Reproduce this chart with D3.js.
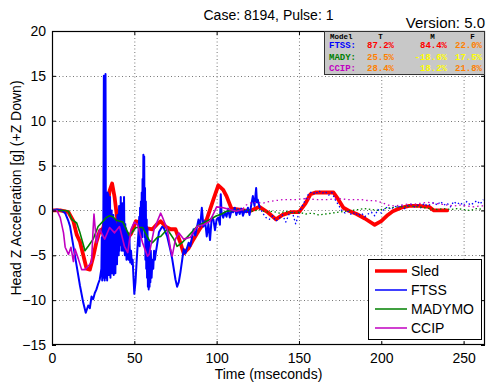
<!DOCTYPE html>
<html><head><meta charset="utf-8">
<script src="https://cdn.jsdelivr.net/npm/d3@7"></script>
<style>body{margin:0;background:#fff}svg{display:block}</style>
</head><body><svg id="c" width="487" height="383"></svg>
<script>
// ---------- data ----------
const xTicks = [0, 50, 100, 150, 200, 250];
const yTicks = [-15, -10, -5, 0, 5, 10, 15, 20];
const seriesNames = ["Sled", "FTSS", "MADYMO", "CCIP"];
const seriesColors = ["#ff0000", "#0000ff", "#008000", "#c000c0"];

const sledT = [0,5,10,13,15,17,19,21,23,25,27,29,31,33,35,36.5,38,40,42,45,48,51,54,58,61,64,66,69,72,75,78,80,83,86,90,94,98,101,104,106,109,114,120,126,131,136,140,145,150,154,157,160,167,171,174,177,181,185,190,196,200,204,207,212,217,223,229,232,240];
const sledV = [0,0,-0.2,-1.2,-2.7,-3.5,-5,-6.5,-6.6,-5.2,-3.5,-2.3,-2.0,-0.5,2.2,3.0,1.5,-1.5,-3.8,-3.3,-2.6,-1.2,-1.4,-2.0,-2.1,-1.5,-1.2,-1.8,-2.1,-2.1,-3.6,-4.8,-4.2,-3.2,-2.0,-1.0,1.2,2.8,2.3,1.6,0.2,0.1,-0.1,0.4,-0.2,-1.0,-0.5,-0.2,-0.2,0.8,1.8,2.0,2.0,2.0,1.2,0.3,-0.1,-0.4,-0.9,-1.6,-1.2,-0.5,-0.1,0.3,0.5,0.5,0.4,0,0];

const ftssT = [0,3,6,8,10,11,13,15,17,19,20.5,22,23,24,25,26,27,28,29,
  30,30.25,30.5,30.75,31,31.25,31.5,31.75,32,32.25,32.5,32.75,33,33.25,33.5,33.75,34,34.25,34.5,34.75,35,35.25,35.5,35.75,36,36.25,36.5,36.75,37,37.25,37.5,37.75,38,38.25,38.5,38.75,39,39.25,39.5,39.75,
  40,40.25,40.5,40.75,41,41.25,41.5,41.75,42,42.25,42.5,42.75,43,43.25,43.5,43.75,44,44.25,44.5,44.75,45,45.25,45.5,45.75,46,46.5,47,47.5,48,48.5,49,49.5,50,50.7,51.5,52.5,
  53,53.25,53.5,53.75,54,54.25,54.5,54.75,55,55.25,55.5,55.75,56,56.25,56.5,56.75,57,57.25,57.5,57.75,58,58.25,58.5,58.75,59,59.25,59.5,59.75,60,60.5,61,61.5,62,62.5,63,64,
  65,66,67,68,70,72,73,75,76,77,78,80,81,83,84,86,87,89,90,91,92,93,94,95,96,97,98,99,100,101,102,102.5,103,104,105,106,107,108,109,110,111,112,113,114,115,116,117,118,119,120,121,122,123,124,124.5,125,126];
const ftssV = [0,0.1,0,-0.3,-1.2,-1.8,-4,-6.2,-8.4,-10.3,-11.4,-10.6,-10.9,-9.6,-9.9,-9.2,-8.8,-8.2,-7.7,
  -6.5,-3,-7.8,-2,-7.5,2.0,15.0,-6,-7.8,1.5,15.2,-5,-7.5,1.0,-7.8,2.0,-7.0,1.8,-7.2,0.5,-6.0,1.5,-7.5,-1.0,-6.8,0,-7.0,-1.5,-6.5,-0.5,-7.2,-2.0,-6.8,-1.0,-7.0,-2.5,-5.5,-1.5,-6.0,-0.5,
  -4.5,-1.0,-5.0,0.5,-4.5,-0.5,-3.8,1.5,-3.5,-0.5,-4.5,0.8,-4.0,-1.0,-4.5,1.5,-3.0,-5.0,-1.5,-4.5,-2.0,-5.5,-3.0,-5.0,-2.5,-5.5,-3.0,-5.8,-4.5,-6.0,-5.5,-7.5,-9.3,-8.0,-5.4,-2.5,
  -0.7,-4,0.3,-3,1.0,-2.5,2.0,-3,3.5,-1,6.2,-2,6.0,-3,2.5,-5.5,1.0,-6.5,-1,-7.5,-2,-8.5,-4,-8.8,-3.5,-8.5,-5,-8.0,-4.5,-7.5,-5.5,-6.5,-4.5,-5.5,-4.8,-3.6,
  -2.4,-2.1,-1.8,-2.0,-2.9,-4.5,-5.4,-7.7,-8.5,-8.0,-6.9,-4.3,-4.8,-3.6,-4.0,-2.1,-2.8,-1.0,-1.8,0.3,-1.8,-1.2,-2.9,-1.5,-3.3,-0.8,-1.0,-2.2,-1.0,-0.8,-1.6,1.8,-0.3,-0.8,-0.2,-0.7,0.2,-0.8,0,-0.2,0.3,-0.5,0.1,-0.4,0.2,-0.6,0,-0.2,0.3,-0.5,0.6,1.6,0.5,2.5,0.9,1.2,0.4];
const ftssLateT = [126,128,130,132,134,136,138,140,142,144,146,148,150,152,154,156,158,160,162,164,166,168,170,172,174,176,178,180,182,184,186,188,190,192,194,196,198,200,202,204,206,208,210,212,214,216,218,220,222,224,226,228,230,232,234,236,238,240,242,244,246,248,250,252,254,256,258,260,262];
const ftssLateV = [0.4,-0.3,-0.8,-1.0,-0.6,-1.2,-0.9,-0.5,-1.3,-0.4,-0.2,-1.5,-0.3,0.5,1.2,1.9,2.1,1.8,2.2,1.9,2.1,1.7,2.0,1.2,0.6,0.0,-0.3,-0.1,-0.5,-0.2,-0.6,-0.3,-0.7,-0.4,-0.2,-0.6,0.1,-0.3,0.2,0.4,0.1,0.5,0.3,0.6,0.2,0.5,0.7,0.4,0.6,0.3,0.8,0.5,0.7,0.9,0.6,1.0,0.6,0.8,0.4,1.0,0.7,0.9,0.5,1.0,0.6,0.8,1.1,0.7,1.2];

const madyT = [0,5,8,10,12,15,17,19,20,22,25,28,30,33,35,37,39,43,47,51,55,59,61,64,66,70,74,76,79,82,85,88,91,94,97,100,103,106,110,114];
const madyV = [0,0,0,-0.1,-1.0,-1.4,-2.5,-3.8,-4.5,-4.0,-3.2,-1.8,-1.4,-0.8,-0.6,-0.7,-1.1,-1.3,-2.8,-1.9,-1.9,-3.3,-3.6,-3.0,-2.9,-2.1,-3.2,-4.0,-3.6,-3.0,-2.4,-1.8,-1.5,-1.2,-0.9,-0.6,-0.4,-0.1,0,0];
const madyLateT = [114,118,122,126,130,134,138,142,146,150,154,158,162,166,170,174,178,182,186,190,194,198,202,206,210,214,218,222,226,230,234,238,242,246,250,254,258,262];
const madyLateV = [0,0.1,-0.1,0.1,-0.2,-0.1,-0.3,-0.1,-0.3,-0.2,-0.4,-0.3,-0.5,-0.4,-0.3,-0.2,-0.1,0.0,0.1,0.2,0.1,0.0,0.2,0.3,0.4,0.4,0.5,0.4,0.3,0.2,0.1,0.2,0.1,0.2,0.1,0.0,0.2,0.1];

const ccipT = [0,3,5,7,8,10,11.5,13,14,16,18,20,22,24,25,25.5,27,29,32,35,38,41,44,46,48,50,52,55,58,59,62,66,67,70,72,73,75,77,80,84,88,92,96,100,104,108,112,116];
const ccipV = [0,0,-0.8,-2.5,-4.1,-4.9,-4.1,-5.7,-4.3,-5.4,-6.6,-6.6,-6.2,-5.8,-2.0,-0.4,-3.6,-2.1,-3.2,-1.9,-2.5,-1.8,-4.0,-4.7,-2.1,-1.3,-1.6,-3.6,-5.1,-4.9,-2.1,-0.3,-0.7,-2.1,-4.3,-5.1,-3.2,-2.5,-3.2,-3.0,-1.8,-1.6,-1.2,0.4,0.3,0.1,-0.1,0.1];
const ccipLateT = [116,118,120,124,128,132,136,140,144,148,152,156,160,164,168,172,176,180,184,188,192,196,200,204,208,212,216,220,224,228,232,236,240,244,248,252,256,260,262];
const ccipLateV = [0.2,0.6,0.8,0.9,0.8,1.0,1.1,1.2,1.2,1.2,1.3,1.3,1.2,1.2,1.2,1.3,1.3,1.2,1.2,1.2,1.1,1.1,0.9,0.6,0.5,0.6,0.7,0.7,0.8,0.9,0.8,0.7,0.6,0.5,0.6,0.5,0.4,0.5,0.5];

const tableHeader = ["Model", "T", "M", "F"];
const tableModels = ["FTSS:", "MADY:", "CCIP:"];
const tableModelColors = ["#0000ff", "#008000", "#c000c0"];
const tableT = ["87.2%", "25.5%", "28.4%"];
const tableM = ["84.4%", "-18.6%", "18.2%"];
const tableF = ["22.0%", "17.5%", "21.8%"];
const tableTColors = ["#ff0000", "#ff8000", "#ff8000"];
const tableMColors = ["#ff0000", "#ffff00", "#ffff00"];
const tableFColors = ["#ff8000", "#ffff00", "#ff8000"];

// ---------- chart ----------
const svg = d3.select("#c");
const L = 52, R = 485, T = 31, B = 345;
const x = d3.scaleLinear().domain([0, 263]).range([L, R]);
const y = d3.scaleLinear().domain([-15, 20]).range([B, T]);
const font = "'Liberation Sans', Arial, sans-serif";

svg.append("defs").append("clipPath").attr("id", "clip")
  .append("rect").attr("x", L).attr("y", T).attr("width", R - L).attr("height", B - T);

// grid
const g = svg.append("g");
g.selectAll(".vg").data(xTicks.filter(d => d > 0)).enter().append("line")
  .attr("x1", d => x(d) + 0.5).attr("x2", d => x(d) + 0.5).attr("y1", T).attr("y2", B)
  .attr("stroke", "#777").attr("stroke-dasharray", "1,2.5");
g.selectAll(".hg").data(yTicks.filter(d => d > -15 && d < 20)).enter().append("line")
  .attr("y1", d => Math.round(y(d)) + 0.5).attr("y2", d => Math.round(y(d)) + 0.5).attr("x1", L).attr("x2", R)
  .attr("stroke", "#777").attr("stroke-dasharray", "1,2.5");

// lines
const line = (tt, vv) => d3.line().x((d, i) => x(tt[i])).y((d, i) => y(vv[i]))(tt);
const lg = svg.append("g").attr("clip-path", "url(#clip)").attr("fill", "none")
  .attr("stroke-linejoin", "round").attr("stroke-linecap", "round");
lg.append("path").attr("d", line(sledT, sledV)).attr("stroke", seriesColors[0]).attr("stroke-width", 3.8);
lg.append("path").attr("d", line(ftssT, ftssV)).attr("stroke", seriesColors[1]).attr("stroke-width", 2);
lg.append("path").attr("d", line(ftssLateT, ftssLateV)).attr("stroke", seriesColors[1]).attr("stroke-width", 1.3).attr("stroke-dasharray", "1.5,2.5").attr("stroke-linecap", "butt");
lg.append("path").attr("d", line(madyT, madyV)).attr("stroke", seriesColors[2]).attr("stroke-width", 1.6);
lg.append("path").attr("d", line(madyLateT, madyLateV)).attr("stroke", seriesColors[2]).attr("stroke-width", 1.3).attr("stroke-dasharray", "1.5,2.5").attr("stroke-linecap", "butt");
lg.append("path").attr("d", line(ccipT, ccipV)).attr("stroke", seriesColors[3]).attr("stroke-width", 1.6);
lg.append("path").attr("d", line(ccipLateT, ccipLateV)).attr("stroke", seriesColors[3]).attr("stroke-width", 1.3).attr("stroke-dasharray", "1.5,3").attr("stroke-linecap", "butt");

// axes
const ax = svg.append("g").attr("font-family", font).attr("font-size", 14);
ax.append("g").attr("transform", `translate(0,${B})`)
  .call(d3.axisBottom(x).tickValues(xTicks).tickSize(-4).tickPadding(8).tickFormat(d3.format("d")));
ax.append("g").attr("transform", `translate(0,${T})`)
  .call(d3.axisTop(x).tickValues(xTicks).tickSize(-4).tickFormat(""));
ax.append("g").attr("transform", `translate(${L},0)`)
  .call(d3.axisLeft(y).tickValues(yTicks).tickSize(-4).tickPadding(6).tickFormat(d3.format("d")));
ax.append("g").attr("transform", `translate(${R},0)`)
  .call(d3.axisRight(y).tickValues(yTicks).tickSize(-4).tickFormat(""));
ax.selectAll(".domain").remove();
ax.selectAll("line").attr("stroke", "#000");
ax.selectAll("text").attr("fill", "#000").attr("font-family", font).attr("font-size", 14);
svg.append("rect").attr("x", L + 0.5).attr("y", T + 0.5).attr("width", R - L - 1).attr("height", B - T - 1)
  .attr("fill", "none").attr("stroke", "#000").attr("stroke-width", 1.2);

// labels
svg.append("text").attr("x", (L + R) / 2).attr("y", 379).attr("text-anchor", "middle")
  .attr("font-family", font).attr("font-size", 14).text("Time (mseconds)");
svg.append("text").attr("transform", `translate(21,${(T + B) / 2}) rotate(-90)`).attr("text-anchor", "middle")
  .attr("font-family", font).attr("font-size", 14).text("Head Z Acceleration [g] (+Z Down)");
svg.append("text").attr("x", (L + R) / 2).attr("y", 20).attr("text-anchor", "middle")
  .attr("font-family", font).attr("font-size", 14).text("Case: 8194, Pulse: 1");
svg.append("text").attr("x", 485).attr("y", 28).attr("text-anchor", "end")
  .attr("font-family", font).attr("font-size", 15).text("Version: 5.0");

// table
const tb = svg.append("g").attr("font-family", "'Liberation Mono', 'Courier New', monospace").attr("font-weight", "bold").attr("font-size", 9);
tb.append("rect").attr("x", 324.5).attr("y", 31.5).attr("width", 160).attr("height", 43)
  .attr("fill", "#c8c8c8").attr("stroke", "#333").attr("stroke-width", 1);
const hx = [330, 380.5, 432.5, 472.5];
tableHeader.forEach((h, i) => tb.append("text").attr("x", hx[i]).attr("y", 39)
  .attr("text-anchor", i === 0 ? "start" : "middle").attr("font-size", 7.5).attr("fill", "#000").text(h));
const rowY = [48, 60, 71];
tableModels.forEach((m, i) => {
  tb.append("text").attr("x", 329).attr("y", rowY[i]).attr("fill", tableModelColors[i]).text(m);
  tb.append("text").attr("x", 394).attr("y", rowY[i]).attr("text-anchor", "end").attr("fill", tableTColors[i]).text(tableT[i]);
  tb.append("text").attr("x", 447).attr("y", rowY[i]).attr("text-anchor", "end").attr("fill", tableMColors[i]).text(tableM[i]);
  tb.append("text").attr("x", 482).attr("y", rowY[i]).attr("text-anchor", "end").attr("fill", tableFColors[i]).text(tableF[i]);
});

// legend
const lgd = svg.append("g").attr("font-family", font).attr("font-size", 14);
lgd.append("rect").attr("x", 368.5).attr("y", 259.5).attr("width", 113).attr("height", 80)
  .attr("fill", "#fff").attr("stroke", "#000").attr("stroke-width", 1);
const legY = [271, 290, 309, 328];
seriesNames.forEach((n, i) => {
  lgd.append("line").attr("x1", 375).attr("x2", 407).attr("y1", legY[i]).attr("y2", legY[i])
    .attr("stroke", seriesColors[i]).attr("stroke-width", i === 0 ? 3.5 : 1.5);
  lgd.append("text").attr("x", 411).attr("y", legY[i] + 5).text(n);
});
</script>
</body></html>
